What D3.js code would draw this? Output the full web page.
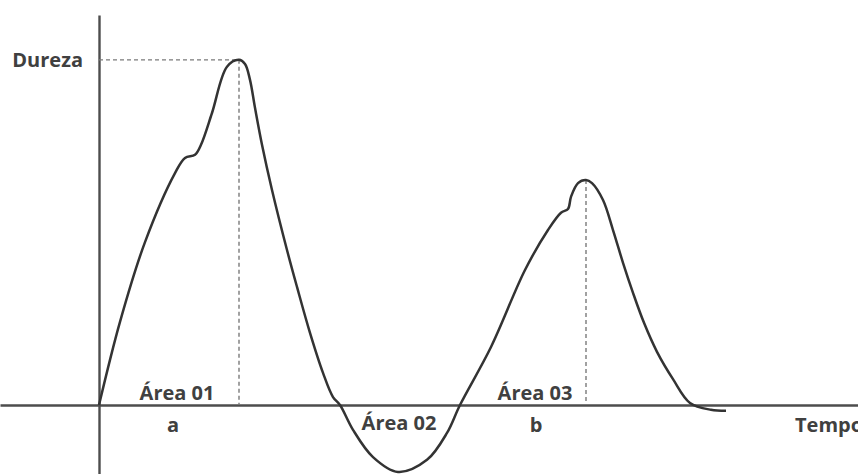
<!DOCTYPE html>
<html>
<head>
<meta charset="utf-8">
<script src="https://cdn.jsdelivr.net/npm/d3@7"></script>
<style>
  body { margin: 0; background: #fff; }
  text { font-family: "Open Sans", sans-serif; font-weight: 700; fill: #404040; font-size: 20px; }
</style>
</head>
<body>
<svg id="chart" width="858" height="474"></svg>
<script>
// perfil de textura: tempo (s) x dureza (% do pico)
var tempo = [0, 0.42, 0.92, 1.52, 1.72, 1.92, 2.04, 2.26, 2.56, 2.8, 2.92, 3.02, 3.12, 3.26,
	3.46, 3.76, 3.96, 4.22, 4.48, 4.68, 4.82, 5.08, 5.48, 5.98, 6.56, 6.96, 7.22, 7.84, 8.52,
	8.98, 9.24, 9.38, 9.44, 9.58, 9.74, 9.86, 10.08, 10.28, 10.48, 10.68, 10.9, 11.16, 11.48,
	11.82, 12.24, 12.54];
var dureza = [0, 24.1, 47.2, 67.2, 71.6, 72.5, 75.4, 84.6, 98.0, 100, 98.8, 94.2, 86.1, 75.4,
	62.3, 44.9, 34.2, 20.9, 9.3, 2.3, 0, -7.2, -15.1, -19.4, -15.9, -8.1, 0, 16.8, 39.1,
	50.7, 55.7, 56.8, 60.3, 64.3, 65.2, 64.3, 59.4, 50.7, 41.2, 32.5, 23.8, 15.4, 7.5,
	0.6, -1.4, -1.7];
var picos = [2.8, 9.74];            // tempo dos picos (dureza 1 e 2)
var areas = ["Área 01", "Área 02", "Área 03"];
var marcas = ["a", "b"];
var eixos = ["Dureza", "Tempo"];

var width = 858, height = 474;
var svg = d3.select("#chart");

var x = d3.scaleLinear().domain([-1.98, 15.18]).range([0, width]);
var y = d3.scaleLinear().domain([-20, 113]).range([height, 15]);

var data = tempo.map(function(t, i) { return { t: t, h: dureza[i] }; });
var peak = picos.map(function(t) { return data.find(function(d) { return d.t === t; }); });

// eixos sem marcas
svg.append("g")
	.attr("transform", "translate(0," + y(0) + ")")
	.call(d3.axisBottom(x).tickValues([]).tickSizeOuter(0))
	.select(".domain").attr("stroke", "#4d4d4d").attr("stroke-width", 2.4);

svg.append("g")
	.attr("transform", "translate(" + x(0) + ",0)")
	.call(d3.axisLeft(y).tickValues([]).tickSizeOuter(0))
	.select(".domain").attr("stroke", "#4d4d4d").attr("stroke-width", 2.4);

// linhas tracejadas de referencia
var guides = svg.append("g")
	.attr("stroke", "#7a7a7a")
	.attr("stroke-width", 1.4)
	.attr("stroke-dasharray", "4,3");

guides.append("line")
	.attr("x1", x(0)).attr("x2", x(peak[0].t))
	.attr("y1", y(peak[0].h)).attr("y2", y(peak[0].h));

guides.selectAll(".v").data(peak).enter().append("line")
	.attr("x1", function(d) { return x(d.t); })
	.attr("x2", function(d) { return x(d.t); })
	.attr("y1", function(d) { return y(d.h); })
	.attr("y2", y(0));

// curva
var line = d3.line()
	.x(function(d) { return x(d.t); })
	.y(function(d) { return y(d.h); })
	.curve(d3.curveCatmullRom.alpha(0.5));

svg.append("path")
	.datum(data)
	.attr("fill", "none")
	.attr("stroke", "#333")
	.attr("stroke-width", 2.5)
	.attr("d", line);

// textos (Tempo fica cortado na borda, como no original)
svg.append("text").attr("x", 83).attr("y", y(peak[0].h) + 7)
	.attr("text-anchor", "end").text(eixos[0]);
svg.append("text").attr("x", 795).attr("y", 432).text(eixos[1]);

var areaPos = [[177, 400], [399, 430], [535, 400]];
svg.selectAll(".area").data(areas).enter().append("text")
	.attr("x", function(d, i) { return areaPos[i][0]; })
	.attr("y", function(d, i) { return areaPos[i][1]; })
	.attr("text-anchor", "middle")
	.text(function(d) { return d; });

var marcaPos = [[173, 432], [536, 432]];
svg.selectAll(".marca").data(marcas).enter().append("text")
	.attr("x", function(d, i) { return marcaPos[i][0]; })
	.attr("y", function(d, i) { return marcaPos[i][1]; })
	.attr("text-anchor", "middle")
	.text(function(d) { return d; });
</script>
</body>
</html>
